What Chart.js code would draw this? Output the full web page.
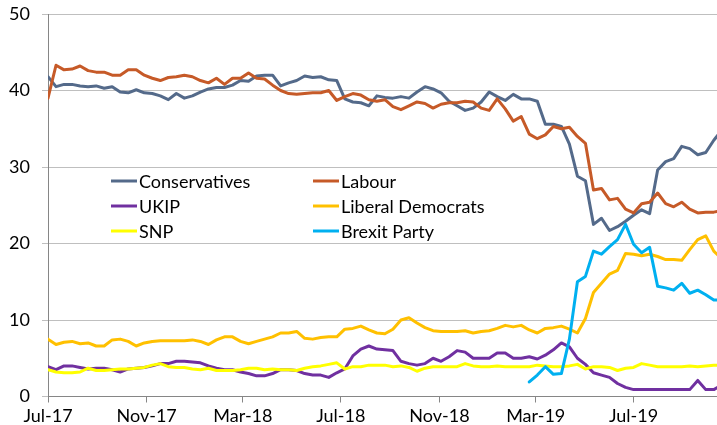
<!DOCTYPE html>
<html><head><meta charset="utf-8">
<script src="https://cdn.jsdelivr.net/npm/chart.js@4.4.1/dist/chart.umd.min.js"></script>
<style>html,body{margin:0;padding:0;background:#fff;overflow:hidden}canvas{display:block}</style>
</head><body>
<canvas id="c" width="717" height="425"></canvas>
<script>
// ---- data ----
const startDate = '2017-07-01';
const endDate = '2019-10-13';
const stepDays = 10;
const tickDates = ['2017-07-01','2017-11-01','2018-03-01','2018-07-01','2018-11-01','2019-03-01','2019-07-01'];
const tickLabels = ['Jul-17','Nov-17','Mar-18','Jul-18','Nov-18','Mar-19','Jul-19'];
const seriesNames = ['Conservatives','Labour','UKIP','Liberal Democrats','SNP','Brexit Party'];

const conservatives = [41.8,40.5,40.8,40.8,40.6,40.5,40.6,40.3,40.5,39.8,
 39.7,40.1,39.7,39.6,39.3,38.8,39.6,39.0,39.3,39.8,
 40.2,40.4,40.4,40.7,41.3,41.2,41.9,42.0,42.0,40.6,
 41.0,41.3,41.9,41.7,41.8,41.4,41.3,38.9,38.5,38.4,
 38.0,39.3,39.1,39.0,39.2,39.0,39.8,40.5,40.2,39.7,
 38.6,38.0,37.4,37.7,38.5,39.8,39.2,38.7,39.5,38.9,
 38.9,38.6,35.6,35.6,35.3,33.0,28.8,28.2,22.5,23.3,
 21.7,22.2,22.9,23.7,24.4,23.9,29.6,30.7,31.1,32.7,
 32.4,31.6,31.9,33.5,34.8];
const labour = [39.0,43.3,42.7,42.8,43.2,42.6,42.4,42.4,42.0,42.0,
 42.7,42.7,42.0,41.6,41.3,41.7,41.8,42.0,41.8,41.3,
 41.0,41.6,40.8,41.6,41.6,42.3,41.6,41.5,40.7,40.0,
 39.6,39.5,39.6,39.7,39.7,40.0,38.7,39.2,39.6,39.4,
 38.8,38.6,38.8,37.9,37.5,38.0,38.5,38.3,37.7,38.2,
 38.4,38.4,38.6,38.5,37.7,37.4,38.9,37.6,36.0,36.6,
 34.3,33.7,34.2,35.3,35.0,35.2,34.0,33.1,27.0,27.2,
 25.7,25.9,24.5,24.0,25.2,25.4,26.6,25.2,24.8,25.4,
 24.5,24.0,24.1,24.1,24.3];
const ukip = [3.9,3.5,4.0,4.0,3.8,3.6,3.7,3.7,3.5,3.2,
 3.6,3.7,3.8,4.0,4.3,4.3,4.6,4.6,4.5,4.4,
 4.0,3.7,3.5,3.5,3.2,3.0,2.7,2.7,3.0,3.5,
 3.5,3.4,3.0,2.8,2.8,2.5,3.1,3.6,5.3,6.2,
 6.6,6.2,6.1,6.0,4.6,4.3,4.1,4.3,5.0,4.6,
 5.2,6.0,5.8,5.0,5.0,5.0,5.7,5.7,5.0,5.0,
 5.2,4.9,5.4,6.1,7.0,6.5,5.0,4.2,3.1,2.8,
 2.5,1.7,1.2,0.9,0.9,0.9,0.9,0.9,0.9,0.9,
 0.9,2.1,0.9,0.9,1.5];
const libDems = [7.5,6.8,7.1,7.2,6.9,7.0,6.6,6.6,7.4,7.5,
 7.2,6.6,7.0,7.2,7.3,7.3,7.3,7.3,7.4,7.2,
 6.8,7.4,7.8,7.8,7.2,6.9,7.2,7.5,7.8,8.3,
 8.3,8.5,7.6,7.5,7.7,7.8,7.8,8.8,8.9,9.2,
 8.7,8.3,8.2,8.8,10.0,10.3,9.6,9.0,8.6,8.5,
 8.5,8.5,8.6,8.3,8.5,8.6,8.9,9.3,9.1,9.3,
 8.7,8.3,8.9,9.0,9.2,8.8,8.3,10.2,13.6,14.8,
 16.0,16.5,18.7,18.6,18.4,18.6,18.3,17.9,17.9,17.8,
 19.2,20.5,21.0,19.0,18.0];
const snp = [3.5,3.2,3.1,3.1,3.2,3.7,3.4,3.4,3.5,3.6,
 3.6,3.7,3.8,4.1,4.3,3.9,3.8,3.8,3.6,3.5,
 3.7,3.4,3.4,3.4,3.5,3.7,3.7,3.5,3.6,3.5,
 3.5,3.4,3.7,3.9,4.0,4.2,4.4,3.6,3.9,3.9,
 4.1,4.1,4.1,3.9,4.0,3.8,3.3,3.7,3.9,3.9,
 3.9,3.9,4.3,4.0,3.9,3.9,4.0,3.9,3.9,3.9,
 3.9,4.1,4.0,3.9,3.9,4.0,4.2,3.6,3.9,3.9,
 3.8,3.4,3.7,3.8,4.3,4.1,3.9,3.9,3.9,3.9,
 4.0,3.9,4.0,4.1,4.1];
const brexitFirstStep = 60;
const brexitParty = [1.9,2.8,3.9,2.9,3.0,7.5,15.0,15.7,19.0,18.6,
 19.6,20.5,22.5,19.9,18.8,19.5,14.4,14.2,13.9,14.8,
 13.5,13.9,13.3,12.6,12.6];

const seriesColors = ['#546A8A','#C65A28','#7030A0','#FFC000','#FFFF00','#00B0F0'];

// ---- build ----
const DAY = 86400000;
const dayOf = d => Math.round((Date.parse(d) - Date.parse(startDate)) / DAY);
const tickDays = tickDates.map(dayOf);
const toPoints = (vals, first) => vals.map((v, i) => ({ x: (first + i) * stepDays, y: v }));
const allSeries = [
  toPoints(conservatives, 0), toPoints(labour, 0), toPoints(ukip, 0),
  toPoints(libDems, 0), toPoints(snp, 0), toPoints(brexitParty, brexitFirstStep)
];
const FONT = { family: 'Lato', size: 18 };

const inLegend = {
  id: 'inLegend',
  afterDatasetsDraw(chart, args, o) {
    const ctx = chart.ctx, a = chart.chartArea;
    ctx.save();
    ctx.font = o.size + 'px ' + o.family;
    ctx.textBaseline = 'middle';
    ctx.textAlign = 'left';
    chart.data.datasets.forEach((ds, k) => {
      const col = k % 2, row = Math.floor(k / 2);
      const x = a.left + o.x0 + col * o.colGap;
      const y = a.top + o.y0 + row * o.rowGap;
      ctx.strokeStyle = ds.borderColor; ctx.lineWidth = 3; ctx.lineCap = 'butt';
      ctx.beginPath(); ctx.moveTo(x, y); ctx.lineTo(x + o.lineLen, y); ctx.stroke();
      ctx.fillStyle = '#000';
      ctx.fillText(ds.label, x + o.lineLen + 2, y + 1);
    });
    ctx.restore();
  }
};

new Chart(document.getElementById('c'), {
  type: 'line',
  data: {
    datasets: seriesNames.map((n, k) => ({
      label: n, data: allSeries[k], borderColor: seriesColors[k], backgroundColor: seriesColors[k],
      borderWidth: 3, pointRadius: 0, tension: 0, fill: false,
      borderJoinStyle: 'round', borderCapStyle: 'round', order: seriesNames.length - k
    }))
  },
  options: {
    responsive: false, animation: false, devicePixelRatio: 1,
    layout: { padding: { top: 14, right: 0, bottom: 0, left: 0 } },
    plugins: {
      legend: { display: false }, tooltip: { enabled: false },
      inLegend: { family: 'Lato', size: 18, x0: 63, y0: 167, colGap: 202, rowGap: 25, lineLen: 26 }
    },
    scales: {
      x: {
        type: 'linear', min: 0, max: dayOf(endDate),
        afterBuildTicks: s => { s.ticks = tickDays.map(v => ({ value: v })); },
        afterFit: s => { s.height = 28.5; s.paddingLeft = 0; s.paddingRight = 0; },
        ticks: { callback: (v, i) => tickLabels[i], font: FONT, color: '#000', padding: 3, maxRotation: 0, autoSkip: false },
        grid: { drawOnChartArea: false, drawTicks: true, tickLength: 6, color: '#868686' },
        border: { color: '#868686', width: 1 }
      },
      y: {
        min: 0, max: 50,
        afterFit: s => { s.width = 48; s.paddingTop = 0; s.paddingBottom = 0; },
        ticks: { stepSize: 10, font: FONT, color: '#000', padding: 12 },
        grid: { color: '#BFBFBF', tickLength: 6, lineWidth: 1 },
        border: { color: '#868686', width: 1 }
      }
    }
  },
  plugins: [inLegend]
});
</script>
</body></html>
